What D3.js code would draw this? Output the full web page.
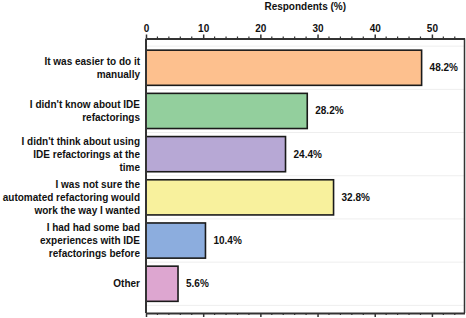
<!DOCTYPE html>
<html><head><meta charset="utf-8">
<script src="https://cdn.jsdelivr.net/npm/d3@7"></script>
<style>
html,body{margin:0;padding:0;background:#fff;}
svg{display:block;font-family:"Liberation Sans",Arial,sans-serif;font-weight:bold;}
</style></head>
<body>
<svg id="chart" width="466" height="318"></svg>
<script>
const categories = [
  ["It was easier to do it", "manually"],
  ["I didn't know about IDE", "refactorings"],
  ["I didn't think about using", "IDE refactorings at the", "time"],
  ["I was not sure the", "automated refactoring would", "work the way I wanted"],
  ["I had had some bad", "experiences with IDE", "refactorings before"],
  ["Other"]
];
const values = [48.2, 28.2, 24.4, 32.8, 10.4, 5.6];
const colors = ["#FDC08E", "#93CF9D", "#B7A8D5", "#F8F19D", "#8CADDE", "#DDA6D0"];
const majorTicks = [0, 10, 20, 30, 40, 50];
const axisTitle = "Respondents (%)";

(function(){
const svg = d3.select("#chart");
const pL = 146, pR = 464.5, pT = 38.5, pB = 313;
const x = d3.scaleLinear().domain([0, 55.7]).range([pL, pR]);
const ids = d3.range(values.length);
const y = d3.scaleBand().domain(ids).range([pT, pB]).paddingInner(0.186).paddingOuter(0.27);
const step = y.step();
const sepY = i => (i < values.length ? y(i) + y.bandwidth()/2 - step/2 : y(values.length-1) + y.bandwidth()/2 + step/2);

// light separators
svg.append("g").selectAll("line").data(d3.range(values.length + 1)).join("line")
  .attr("x1", pL).attr("x2", pR)
  .attr("y1", sepY).attr("y2", sepY)
  .attr("stroke", "#eeeeee").attr("stroke-width", 1);

// bars
svg.append("g").selectAll("rect").data(ids).join("rect")
  .attr("x", x(0)).attr("y", i => y(i))
  .attr("width", i => x(values[i]) - x(0)).attr("height", y.bandwidth())
  .attr("fill", i => colors[i]).attr("stroke", "#1a1a1a").attr("stroke-width", 1.6);

// value labels
svg.append("g").selectAll("text").data(ids).join("text")
  .attr("x", i => x(values[i]) + 8).attr("y", i => y(i) + y.bandwidth()/2)
  .attr("dy", "0.35em").attr("font-size", 10).attr("fill", "#111")
  .text(i => values[i].toFixed(1) + "%");

// category labels
const lh = 13;
const cl = svg.append("g").selectAll("text").data(ids).join("text")
  .attr("text-anchor", "end").attr("font-size", 10).attr("fill", "#111")
  .attr("x", 140)
  .attr("y", i => y(i) + y.bandwidth()/2 - (categories[i].length - 1) * lh / 2);
cl.each(function(i){
  d3.select(this).selectAll("tspan").data(categories[i]).join("tspan")
    .attr("x", 140).attr("dy", (d, k) => k === 0 ? "0.35em" : lh).text(d => d);
});

// axes
const minor = d3.range(0, 56, 2).filter(v => v % 10 !== 0);
const topAxis = svg.append("g").attr("transform", `translate(0,${pT})`)
  .call(d3.axisTop(x).tickValues(majorTicks).tickSize(4).tickSizeOuter(0).tickPadding(3));
const botAxis = svg.append("g").attr("transform", `translate(0,${pB})`)
  .call(d3.axisBottom(x).tickValues(majorTicks).tickSize(4).tickSizeOuter(0).tickFormat(""));
[topAxis, botAxis].forEach(g => {
  g.select(".domain").attr("stroke", "#333").attr("stroke-width", 2);
  g.selectAll(".tick line").attr("stroke", "#333").attr("stroke-width", 1.5);
  g.selectAll("text").attr("font-size", 10).attr("font-family", "Liberation Sans, Arial, sans-serif").attr("font-weight", "bold").attr("fill", "#111");
});
svg.append("g").selectAll("line").data(minor).join("line")
  .attr("x1", d => x(d)).attr("x2", d => x(d)).attr("y1", pT).attr("y2", pT - 2)
  .attr("stroke", "#333").attr("stroke-width", 1.2);
svg.append("g").selectAll("line").data(minor).join("line")
  .attr("x1", d => x(d)).attr("x2", d => x(d)).attr("y1", pB).attr("y2", pB + 2)
  .attr("stroke", "#333").attr("stroke-width", 1.2);

// frame sides
svg.append("line").attr("x1", pL).attr("x2", pL).attr("y1", pT).attr("y2", pB)
  .attr("stroke", "#333").attr("stroke-width", 2);
svg.append("line").attr("x1", pR).attr("x2", pR).attr("y1", pT).attr("y2", pB)
  .attr("stroke", "#333").attr("stroke-width", 1.5);

// title
svg.append("text").attr("x", (pL + pR) / 2).attr("y", 10)
  .attr("text-anchor", "middle").attr("font-size", 10).attr("fill", "#111").text(axisTitle);
})();
</script>
</body></html>
